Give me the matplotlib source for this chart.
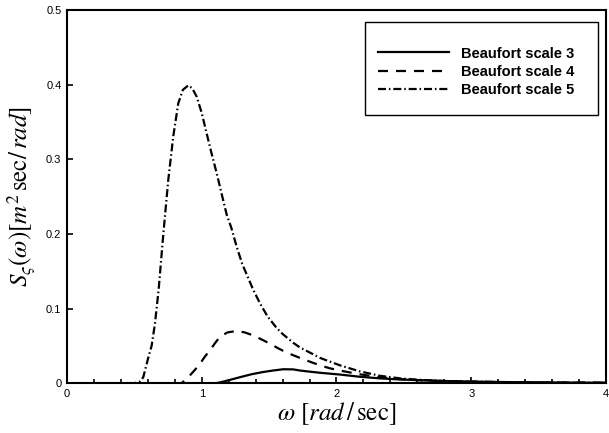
import numpy as np
import matplotlib
matplotlib.use('Agg')
import matplotlib.pyplot as plt
from matplotlib.patches import Rectangle
from matplotlib.ticker import MultipleLocator, FuncFormatter

plt.rcParams['font.family'] = ['Liberation Sans', 'DejaVu Sans']
plt.rcParams['mathtext.fontset'] = 'stix'

# Beaufort scale 3 (solid)
w3 = [0.0, 1.1, 1.135, 1.2, 1.283, 1.37, 1.456, 1.53, 1.605, 1.68, 1.728, 1.8,
      1.877, 1.95, 2.025, 2.17, 2.32, 2.47, 2.62, 2.77, 3.0, 3.3, 3.6, 4.0]
s3 = [0.0, 0.0, 0.001, 0.004, 0.008, 0.012, 0.015, 0.017, 0.0187, 0.0185, 0.017, 0.0155,
      0.014, 0.0128, 0.0116, 0.0087, 0.0065, 0.005, 0.004, 0.003, 0.0022, 0.0014, 0.0009, 0.0006]

# Beaufort scale 4 (dashed)
w4 = [0.0, 0.85, 0.875, 0.9, 0.95, 0.987, 1.025, 1.061, 1.1, 1.135, 1.19, 1.259, 1.32,
      1.382, 1.44, 1.506, 1.565, 1.63, 1.728, 1.8, 1.877, 1.95, 2.025, 2.17, 2.32,
      2.47, 2.62, 2.8, 3.0, 3.3, 3.6, 4.0]
s4 = [0.0, 0.0, 0.004, 0.008, 0.018, 0.026, 0.036, 0.044, 0.054, 0.062, 0.068, 0.070, 0.068,
      0.064, 0.059, 0.053, 0.047, 0.041, 0.034, 0.029, 0.024, 0.020, 0.017, 0.012, 0.008,
      0.0055, 0.004, 0.0028, 0.002, 0.0013, 0.0009, 0.0006]

# Beaufort scale 5 (dash-dot)
w5 = [0.0, 0.5, 0.54, 0.566, 0.603, 0.628, 0.653, 0.68, 0.715, 0.752, 0.789, 0.826, 0.86,
      0.9, 0.93, 0.962, 1.0, 1.036, 1.07, 1.11, 1.15, 1.185, 1.22, 1.259, 1.3, 1.333,
      1.38, 1.432, 1.49, 1.556, 1.6, 1.68, 1.728, 1.803, 1.877, 1.95, 2.025, 2.17, 2.32,
      2.47, 2.62, 2.8, 3.0, 3.3, 3.6, 4.0]
s5 = [0.0, 0.0, 0.002, 0.008, 0.034, 0.05, 0.08, 0.125, 0.20, 0.273, 0.331, 0.375, 0.393,
      0.399, 0.395, 0.384, 0.362, 0.335, 0.31, 0.282, 0.252, 0.226, 0.208, 0.183, 0.16, 0.146,
      0.126, 0.107, 0.089, 0.074, 0.066, 0.054, 0.048, 0.041, 0.034, 0.029, 0.024, 0.016, 0.010,
      0.0065, 0.0045, 0.003, 0.002, 0.0012, 0.0008, 0.0005]

labels = ['Beaufort scale 3', 'Beaufort scale 4', 'Beaufort scale 5']

fig = plt.figure(figsize=(6.09, 4.33), dpi=100)
ax = fig.add_axes([0.110, 0.115, 0.885, 0.862])

ax.plot(w3, s3, color='black', lw=1.6, ls='-', label=labels[0])
ax.plot(w4, s4, color='black', lw=1.6, ls=(0, (4.5, 3.6)), label=labels[1])
ax.plot(w5, s5, color='black', lw=1.6, ls=(0, (3.6, 1.3, 0.7, 1.3)), label=labels[2])

ax.set_xlim(0, 4)
ax.set_ylim(0, 0.5)
ax.xaxis.set_major_locator(MultipleLocator(1))
ax.xaxis.set_minor_locator(MultipleLocator(0.2))
ax.yaxis.set_major_locator(MultipleLocator(0.1))
fmt = FuncFormatter(lambda v, p: f'{v:g}')
ax.xaxis.set_major_formatter(fmt)
ax.yaxis.set_major_formatter(fmt)
ax.tick_params(which='both', direction='in', labelsize=8, width=1.2, pad=4)
ax.tick_params(which='major', length=4)
ax.tick_params(which='minor', length=3)
for s in ax.spines.values():
    s.set_linewidth(1.5)

ax.set_xlabel(r'$\omega\ [rad\,/\,\mathrm{sec}]$', fontsize=18, labelpad=1)
ax.set_ylabel(r'$S_{\varsigma}(\omega)[m^2\,\mathrm{sec}/\,rad]$', fontsize=18, labelpad=6)

ax.add_patch(Rectangle((0.553, 0.718), 0.432, 0.25, transform=ax.transAxes,
                       fill=False, edgecolor='black', lw=1.0, zorder=5))
leg = ax.legend(loc='center left', bbox_to_anchor=(0.577, 0.834), frameon=False,
                borderpad=0, borderaxespad=0, handlelength=4.9, handletextpad=0.8,
                labelspacing=0.3, prop={'weight': 'bold', 'size': 10.5})

fig.savefig('out.png', dpi=100)
